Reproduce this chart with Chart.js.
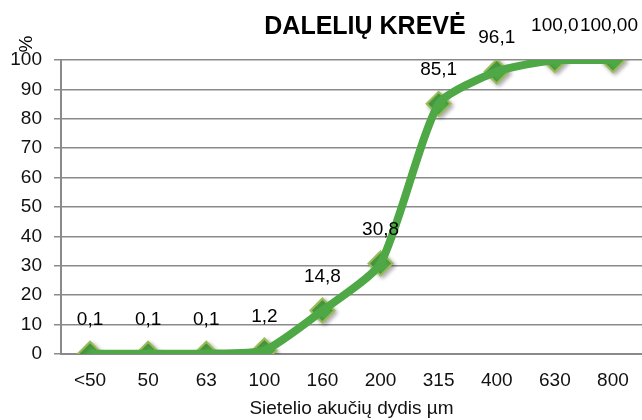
<!DOCTYPE html>
<html>
<head>
<meta charset="utf-8">
<script src="https://cdn.jsdelivr.net/npm/chart.js@4"></script>
<style>
  html, body { margin: 0; padding: 0; background: #fff; overflow: hidden; }
  canvas { display: block; }
</style>
</head>
<body>
<canvas id="chart" width="642" height="420"></canvas>
<script>
const sieveSizes = ["<50", "50", "63", "100", "160", "200", "315", "400", "630", "800"];
const passingPct = [0.1, 0.1, 0.1, 1.2, 14.8, 30.8, 85.1, 96.1, 100, 100];
const pointLabels = ["0,1", "0,1", "0,1", "1,2", "14,8", "30,8", "85,1", "96,1", "100,0", "100,00"];
const yTicks = [0, 10, 20, 30, 40, 50, 60, 70, 80, 90, 100];

const FONT = "'Liberation Sans', Arial, sans-serif";

// soft shadow under the diamonds only
const markerShadow = {
  id: "markerShadow",
  beforeDatasetDraw(chart, args) {
    if (args.index !== 1) return;
    const ctx = chart.ctx;
    ctx.save();
    ctx.shadowColor = "rgba(0,0,0,0.3)";
    ctx.shadowBlur = 4;
    ctx.shadowOffsetX = 2;
    ctx.shadowOffsetY = 2;
  },
  afterDatasetDraw(chart, args) {
    if (args.index === 1) chart.ctx.restore();
  }
};

// title, rotated "%" and value labels
const extras = {
  id: "extras",
  afterDatasetsDraw(chart) {
    const { ctx, chartArea } = chart;
    ctx.save();
    ctx.fillStyle = "#000";
    ctx.font = "bold 25px " + FONT;
    ctx.textAlign = "center";
    ctx.textBaseline = "middle";
    ctx.fillText("DALELIŲ KREVĖ", 365, 27);

    ctx.font = "19px " + FONT;
    ctx.save();
    ctx.translate(chartArea.left - 34, chartArea.top - 16);
    ctx.rotate(-Math.PI / 2);
    ctx.fillText("%", 0, 0);
    ctx.restore();

    const meta = chart.getDatasetMeta(1);
    meta.data.forEach((pt, i) => {
      const txt = pointLabels[i];
      const w = ctx.measureText(txt).width;
      let x = pt.x;
      if (x + w / 2 > chart.width - 4) x = chart.width - 4 - w / 2;
      ctx.fillText(txt, x, pt.y - 34);
    });
    ctx.restore();
  }
};

new Chart(document.getElementById("chart"), {
  type: "line",
  data: {
    labels: sieveSizes,
    datasets: [
      {
        data: passingPct,
        borderColor: "#4ea845",
        borderWidth: 8,
        tension: 0.2,
        pointRadius: 0
      },
      {
        data: passingPct,
        showLine: false,
        pointStyle: "rectRot",
        pointRadius: 12,
        pointBackgroundColor: "#4fa846",
        pointBorderColor: "#9bbb59",
        pointBorderWidth: 2
      }
    ]
  },
  options: {
    responsive: false,
    devicePixelRatio: 1,
    animation: false,
    layout: { autoPadding: false, padding: { left: 0, right: 0, top: 60, bottom: 0 } },
    plugins: {
      legend: { display: false },
      tooltip: { enabled: false }
    },
    scales: {
      x: {
        offset: true,
        afterFit(scale) {
          scale.height = 66;
          scale.paddingLeft = 0;
          scale.paddingRight = 0;
        },
        grid: { display: false, drawTicks: false },
        border: { color: "#8a8a8a", width: 2 },
        ticks: { color: "#111", font: { family: FONT, size: 19 }, padding: 15, maxRotation: 0 },
        title: {
          display: true,
          text: "Sietelio akučių dydis µm",
          color: "#111",
          font: { family: FONT, size: 19 },
          padding: { top: 5, bottom: 0 }
        }
      },
      y: {
        min: 0,
        max: 100,
        afterBuildTicks(scale) { scale.ticks = yTicks.map(v => ({ value: v })); },
        afterFit(scale) { scale.width = 61; },
        grid: { color: "#8a8a8a", lineWidth: 1.5, tickLength: 7, drawTicks: true },
        border: { color: "#8a8a8a", width: 2 },
        ticks: { color: "#111", font: { family: FONT, size: 19 }, padding: 12 }
      }
    }
  },
  plugins: [markerShadow, extras]
});
</script>
</body>
</html>
